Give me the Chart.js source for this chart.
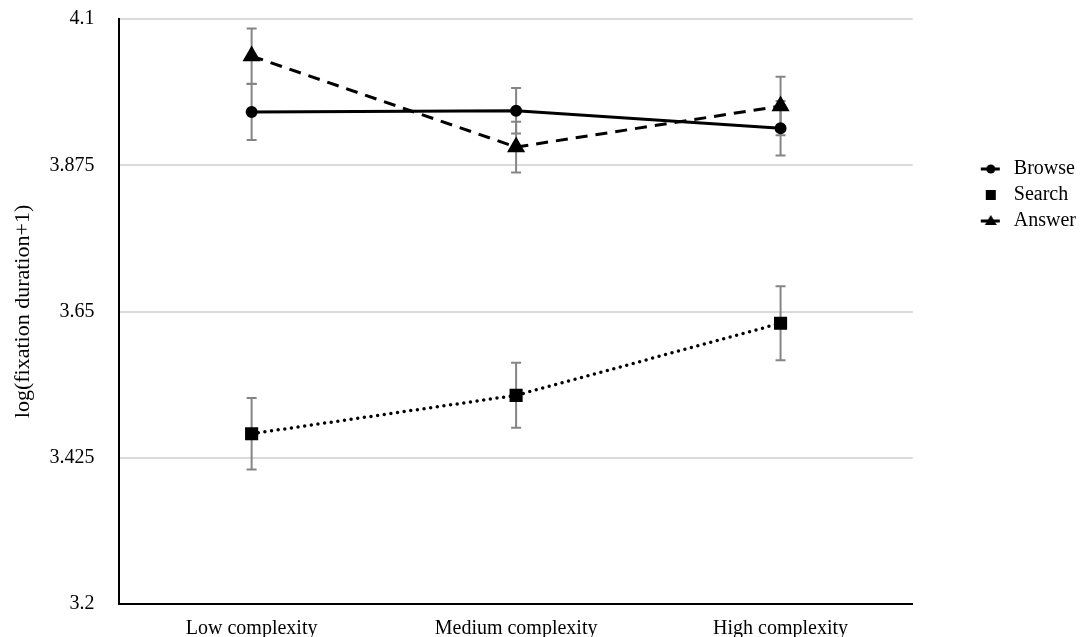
<!DOCTYPE html>
<html>
<head>
<meta charset="utf-8">
<script src="https://cdn.jsdelivr.net/npm/chart.js@4/dist/chart.umd.min.js"></script>
<style>
  body { margin: 0; background: #fff; }
  #wrap { width: 1081px; height: 637px; }
</style>
</head>
<body>
<div id="wrap"><canvas id="fixChart" width="1081" height="637"></canvas></div>
<script>
// --- Data ---
const categories = ["Low complexity", "Medium complexity", "High complexity"];
const yTicks = [3.2, 3.425, 3.65, 3.875, 4.1];

const browse = [3.957, 3.959, 3.932];
const browseErr = [0.043, 0.035, 0.042];

const search = [3.462, 3.521, 3.632];
const searchErr = [0.055, 0.050, 0.057];

const answer = [4.043, 3.903, 3.966];
const answerErr = [0.0425, 0.039, 0.045];

const FONT = "'Liberation Serif', 'Times New Roman', serif";

// --- Legend icons (line + marker) ---
const ICON_W = 85;
function makeIcon(kind, withLine) {
  const c = document.createElement("canvas");
  c.width = ICON_W;
  c.height = 16;
  const g = c.getContext("2d");
  const cx = ICON_W - 13, cy = 8;
  g.fillStyle = "#000";
  g.strokeStyle = "#000";
  if (withLine) {
    g.lineWidth = 3;
    g.beginPath();
    g.moveTo(cx - 10, cy);
    g.lineTo(cx + 9, cy);
    g.stroke();
  }
  g.beginPath();
  if (kind === "circle") {
    g.arc(cx, cy, 4.5, 0, Math.PI * 2);
  } else if (kind === "rect") {
    g.rect(cx - 5, cy - 5, 10, 10);
  } else {
    g.moveTo(cx, cy - 6);
    g.lineTo(cx + 6, cy + 4);
    g.lineTo(cx - 6, cy + 4);
    g.closePath();
  }
  g.fill();
  return c;
}
const legendIcons = [makeIcon("circle", true), makeIcon("rect", false), makeIcon("triangle", true)];

// --- Error bar plugin ---
const errorBars = {
  id: "errorBars",
  beforeDatasetsDraw(chart) {
    const { ctx, scales: { x, y } } = chart;
    ctx.save();
    ctx.strokeStyle = "#858585";
    ctx.lineWidth = 2;
    chart.data.datasets.forEach(ds => {
      ds.errors.forEach((e, j) => {
        const px = x.getPixelForValue(j);
        const top = y.getPixelForValue(ds.data[j] + e);
        const bot = y.getPixelForValue(ds.data[j] - e);
        ctx.beginPath();
        ctx.moveTo(px, top);
        ctx.lineTo(px, bot);
        ctx.moveTo(px - 5, top);
        ctx.lineTo(px + 5, top);
        ctx.moveTo(px - 5, bot);
        ctx.lineTo(px + 5, bot);
        ctx.stroke();
      });
    });
    ctx.restore();
  }
};

// --- Chart ---
const ctx = document.getElementById("fixChart").getContext("2d");
new Chart(ctx, {
  type: "line",
  data: {
    labels: categories,
    datasets: [
      {
        label: "Browse",
        data: browse,
        errors: browseErr,
        borderColor: "#000",
        backgroundColor: "#000",
        borderWidth: 3,
        pointStyle: "circle",
        pointRadius: 4.5,
        tension: 0
      },
      {
        label: "Search",
        data: search,
        errors: searchErr,
        borderColor: "#000",
        backgroundColor: "#000",
        borderWidth: 3.5,
        borderDash: [0, 6.7],
        borderCapStyle: "round",
        pointStyle: "rect",
        pointRadius: 6.8,
        tension: 0
      },
      {
        label: "Answer",
        data: answer,
        errors: answerErr,
        borderColor: "#000",
        backgroundColor: "#000",
        borderWidth: 3,
        borderDash: [12, 8],
        pointStyle: "triangle",
        pointRadius: 7.5,
        tension: 0
      }
    ]
  },
  options: {
    responsive: false,
    animation: false,
    layout: { padding: { top: 19, left: 10, right: -5, bottom: -17 } },
    plugins: {
      tooltip: { enabled: false },
      legend: {
        position: "right",
        align: "start",
        title: { display: true, text: " ", font: { size: 20, family: FONT }, padding: { top: 0, bottom: 110 } },
        labels: {
          usePointStyle: true,
          pointStyleWidth: ICON_W,
          padding: 6,
          color: "#000",
          font: { size: 20, family: FONT },
          generateLabels(chart) {
            const items = Chart.defaults.plugins.legend.labels.generateLabels(chart);
            items.forEach((it, i) => { it.pointStyle = legendIcons[i]; });
            return items;
          }
        }
      }
    },
    scales: {
      x: {
        offset: true,
        grid: { display: false, drawTicks: false },
        border: { color: "#000", width: 2 },
        ticks: { color: "#000", padding: 13, font: { size: 20, family: FONT }, maxRotation: 0 }
      },
      y: {
        min: 3.2,
        max: 4.1,
        afterBuildTicks: scale => { scale.ticks = yTicks.map(v => ({ value: v })); },
        // tick padding would otherwise push the plot top/bottom inward
        afterFit: scale => { scale.paddingTop = 0; scale.paddingBottom = 0; },
        grid: { color: "#dadada", lineWidth: 2, drawTicks: false },
        border: { color: "#000", width: 2 },
        ticks: {
          color: "#000",
          padding: 25,
          font: { size: 20, family: FONT },
          callback: v => String(v)
        },
        title: {
          display: true,
          text: "log(fixation duration+1)",
          color: "#000",
          font: { size: 22, family: FONT },
          padding: { top: 0, bottom: -12 }
        }
      }
    }
  },
  plugins: [errorBars]
});
</script>
</body>
</html>
